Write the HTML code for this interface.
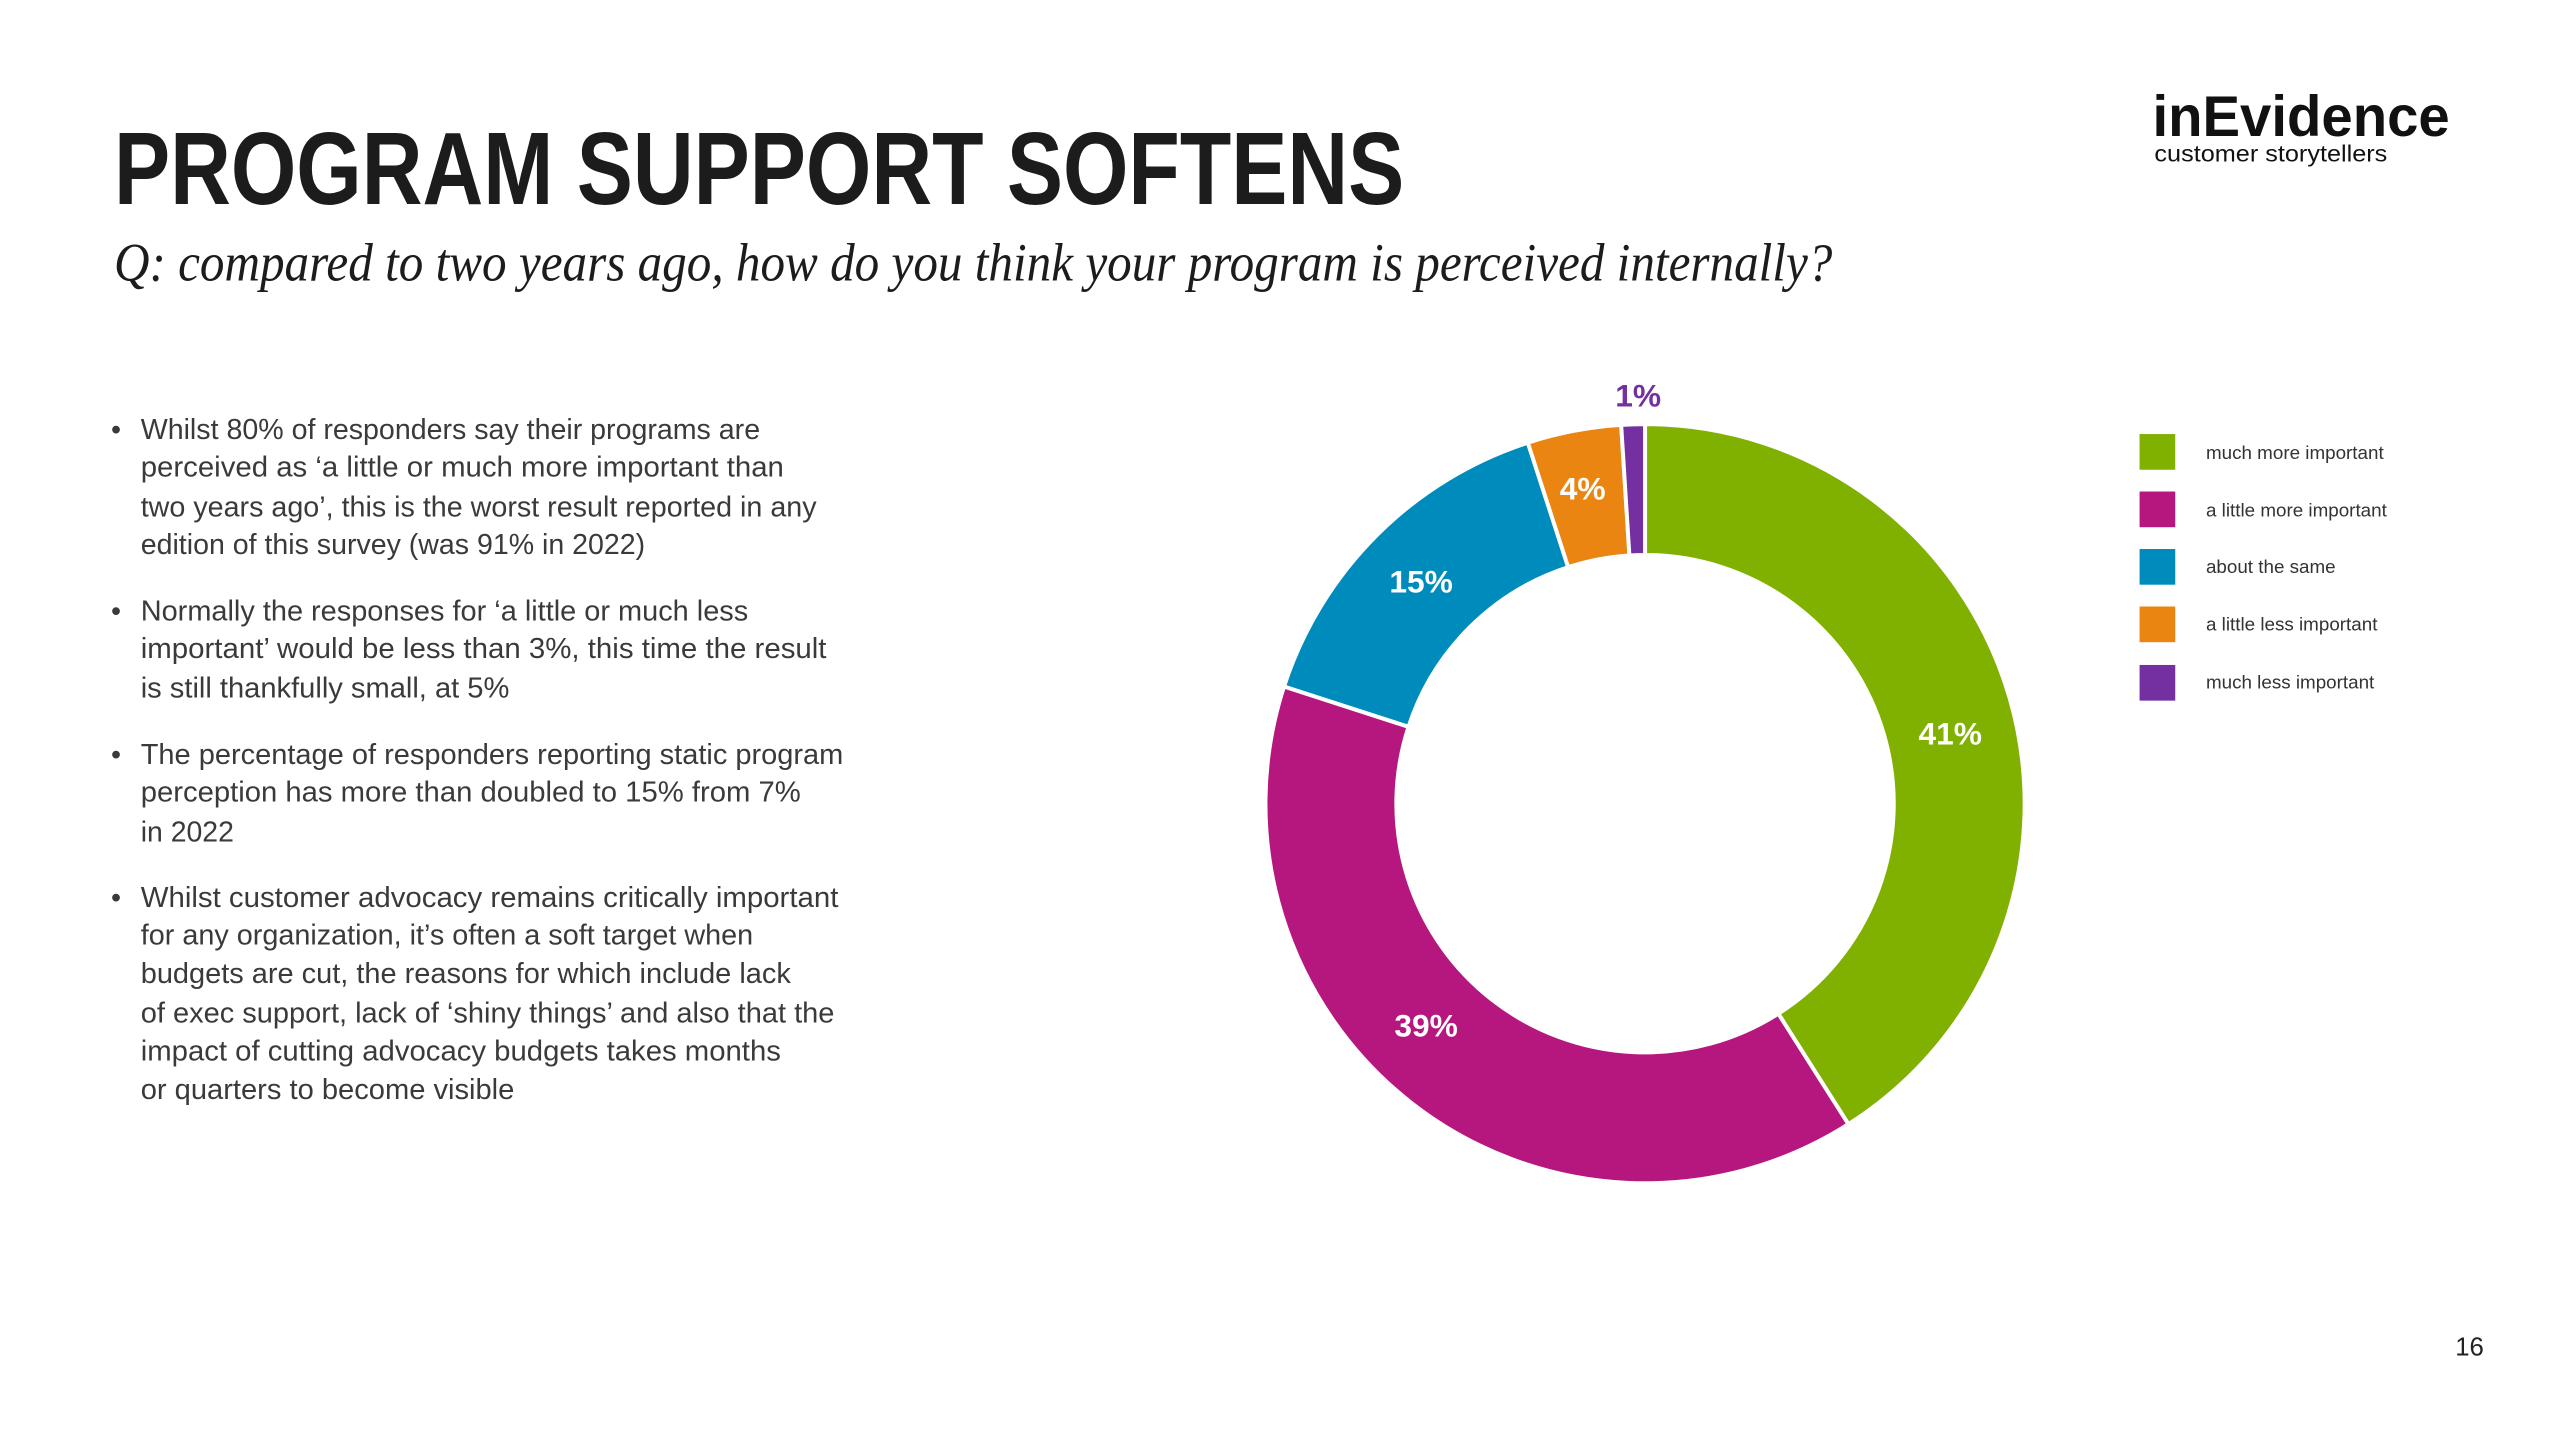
<!DOCTYPE html>
<html><head><meta charset="utf-8"><style>
html,body{margin:0;padding:0;background:#fff;}
svg{display:block;}
text{font-family:"Liberation Sans",sans-serif;}
</style></head><body>
<svg width="2560" height="1440" viewBox="0 0 2560 1440" xmlns="http://www.w3.org/2000/svg">
<rect width="2560" height="1440" fill="#fff"/>
<g transform="scale(0.991)">
<text x="115" y="206" font-size="104" font-weight="bold" fill="#1c1c1c" textLength="1302" lengthAdjust="spacingAndGlyphs">PROGRAM SUPPORT SOFTENS</text>
<text x="115" y="283" font-size="54" font-style="italic" fill="#1c1c1c" style="font-family:'Liberation Serif',serif" textLength="1734" lengthAdjust="spacingAndGlyphs">Q: compared to two years ago, how do you think your program is perceived internally?</text>
<text x="2172" y="137" font-size="58" font-weight="bold" fill="#111" textLength="300" lengthAdjust="spacingAndGlyphs">inEvidence</text>
<text x="2174" y="163" font-size="23" fill="#111" textLength="235" lengthAdjust="spacingAndGlyphs">customer storytellers</text>
<g font-size="29" fill="#3a3a3a">
<text x="112" y="443">•</text><text x="112" y="626">•</text><text x="112" y="771">•</text><text x="112" y="915">•</text>
<text x="142" y="443" textLength="625" lengthAdjust="spacingAndGlyphs">Whilst 80% of responders say their programs are</text>
<text x="142" y="481" textLength="649" lengthAdjust="spacingAndGlyphs">perceived as ‘a little or much more important than</text>
<text x="142" y="521" textLength="682" lengthAdjust="spacingAndGlyphs">two years ago’, this is the worst result reported in any</text>
<text x="142" y="559" textLength="509" lengthAdjust="spacingAndGlyphs">edition of this survey (was 91% in 2022)</text>
<text x="142" y="626" textLength="613" lengthAdjust="spacingAndGlyphs">Normally the responses for ‘a little or much less</text>
<text x="142" y="664" textLength="692" lengthAdjust="spacingAndGlyphs">important’ would be less than 3%, this time the result</text>
<text x="142" y="704" textLength="372" lengthAdjust="spacingAndGlyphs">is still thankfully small, at 5%</text>
<text x="142" y="771" textLength="709" lengthAdjust="spacingAndGlyphs">The percentage of responders reporting static program</text>
<text x="142" y="809" textLength="666" lengthAdjust="spacingAndGlyphs">perception has more than doubled to 15% from 7%</text>
<text x="142" y="849" textLength="94" lengthAdjust="spacingAndGlyphs">in 2022</text>
<text x="142" y="915" textLength="704" lengthAdjust="spacingAndGlyphs">Whilst customer advocacy remains critically important</text>
<text x="142" y="953" textLength="618" lengthAdjust="spacingAndGlyphs">for any organization, it’s often a soft target when</text>
<text x="142" y="992" textLength="656" lengthAdjust="spacingAndGlyphs">budgets are cut, the reasons for which include lack</text>
<text x="142" y="1032" textLength="700" lengthAdjust="spacingAndGlyphs">of exec support, lack of ‘shiny things’ and also that the</text>
<text x="142" y="1070" textLength="646" lengthAdjust="spacingAndGlyphs">impact of cutting advocacy budgets takes months</text>
<text x="142" y="1109" textLength="377" lengthAdjust="spacingAndGlyphs">or quarters to become visible</text>
</g>
<g stroke="#fff" stroke-width="4" stroke-linejoin="miter">
<path d="M1660,428 A383,383 0 0 1 1865.2,1134.4 L1794.5,1022.9 A251,251 0 0 0 1660,560 Z" fill="#80b000"/>
<path d="M1865.2,1134.4 A383,383 0 0 1 1295.7,692.7 L1421.3,733.4 A251,251 0 0 0 1794.5,1022.9 Z" fill="#b5177f"/>
<path d="M1295.7,692.7 A383,383 0 0 1 1541.7,446.7 L1582.4,572.3 A251,251 0 0 0 1421.3,733.4 Z" fill="#008bbd"/>
<path d="M1541.7,446.7 A383,383 0 0 1 1635.9,428.8 L1644.2,560.5 A251,251 0 0 0 1582.4,572.3 Z" fill="#ea8511"/>
<path d="M1635.9,428.8 A383,383 0 0 1 1660,428 L1660,560 A251,251 0 0 0 1644.2,560.5 Z" fill="#7430a0"/>
</g>
<g font-size="32" font-weight="bold" text-anchor="middle" dominant-baseline="central" fill="#fff">
<text x="1968" y="740">41%</text>
<text x="1439" y="1035">39%</text>
<text x="1434" y="587">15%</text>
<text x="1597" y="493">4%</text>
<text x="1653" y="399" fill="#7430a0">1%</text>
</g>
<rect x="2159" y="438" width="36" height="36" fill="#80b000"/>
<rect x="2159" y="496" width="36" height="36" fill="#b5177f"/>
<rect x="2159" y="554" width="36" height="36" fill="#008bbd"/>
<rect x="2159" y="612" width="36" height="36" fill="#ea8511"/>
<rect x="2159" y="671" width="36" height="36" fill="#7430a0"/>
<g font-size="19" fill="#333">
<text x="2226" y="463">much more important</text>
<text x="2226" y="521">a little more important</text>
<text x="2226" y="578">about the same</text>
<text x="2226" y="636">a little less important</text>
<text x="2226" y="695">much less important</text>
</g>
<text x="2492" y="1368" font-size="26" fill="#222" text-anchor="middle">16</text>
</g>
</svg>
</body></html>
